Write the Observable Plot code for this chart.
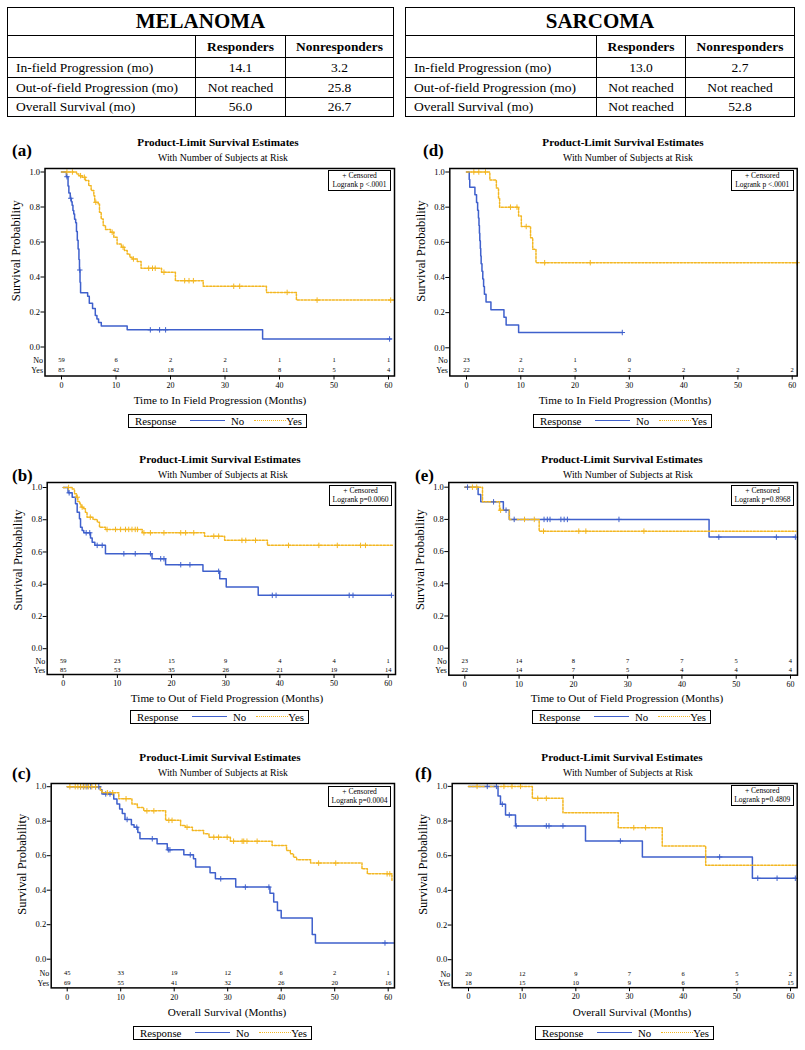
<!DOCTYPE html>
<html><head><meta charset="utf-8">
<script src="https://cdn.jsdelivr.net/npm/d3@7"></script>
<script src="https://cdn.jsdelivr.net/npm/@observablehq/plot@0.6"></script>
<style>
body{margin:0;background:#fff;font-family:"Liberation Serif","Times New Roman",serif;color:#000}
#root{position:relative;width:805px;height:1050px;overflow:hidden}
.abs{position:absolute;white-space:nowrap;line-height:1}
table.t{position:absolute;border-collapse:collapse;table-layout:fixed}
table.t td{border:1.5px solid #000;padding:0;text-align:center;font-size:13.5px;white-space:nowrap;overflow:hidden}
table.t td.l{text-align:left;padding-left:8px}
table.t td.h{font-weight:bold;font-size:13.4px}
table.t td.tt{font-weight:bold;font-size:21px}
.box{position:absolute;border:1.5px solid #000;box-sizing:border-box;background:#fff}
</style></head><body><div id="root"></div>
<script>
// ---------- table data ----------
const tableRowLabels = ["In-field Progression (mo)", "Out-of-field Progression (mo)", "Overall Survival (mo)"];
const tableHeaders = ["Responders", "Nonresponders"];
const melanomaResponders = ["14.1", "Not reached", "56.0"];
const melanomaNonresponders = ["3.2", "25.8", "26.7"];
const sarcomaResponders = ["13.0", "Not reached", "Not reached"];
const sarcomaNonresponders = ["2.7", "Not reached", "52.8"];

// ---------- common ticks ----------
const xTicks = [0, 10, 20, 30, 40, 50, 60];
const yTicks = [0, 0.2, 0.4, 0.6, 0.8, 1.0];
const riskTimes = [0, 10, 20, 30, 40, 50, 60];
const xTitles = ["Time to In Field Progression (Months)", "Time to Out of Field Progression (Months)", "Overall Survival (Months)"];
const logrankP = ["Logrank p <.0001", "Logrank p=0.0060", "Logrank p=0.0004", "Logrank p <.0001", "Logrank p=0.8968", "Logrank p=0.4809"];

// ---------- (a) melanoma in-field ----------
const aNoTime = [0, 0.9, 1.2, 1.35, 1.6, 1.8, 1.95, 2.1, 2.25, 2.4, 2.6, 2.75, 2.9, 3.05, 3.2, 3.3, 3.4, 3.5, 4.8, 5.1, 5.7, 6.2, 6.5, 6.8, 7.3, 12.05, 36.9];
const aNoSurv = [1, 0.973, 0.92, 0.88, 0.85, 0.83, 0.81, 0.78, 0.76, 0.73, 0.71, 0.66, 0.61, 0.56, 0.50, 0.44, 0.37, 0.31, 0.29, 0.25, 0.22, 0.18, 0.16, 0.14, 0.12, 0.098, 0.046];
const aNoCens = [1.0, 1.7, 3.35, 16.3, 18.0, 19.1, 60.2];
const aYesTime = [0, 2.75, 3.18, 3.79, 4.4, 5.0, 5.44, 5.93, 6.1, 6.73, 6.97, 7.28, 7.65, 8.07, 9.0, 9.6, 10.2, 11.0, 11.56, 12.05, 12.54, 12.97, 13.9, 14.6, 18.35, 20.9, 26.0, 37.6, 43.1];
const aYesSurv = [1, 0.989, 0.979, 0.97, 0.951, 0.922, 0.894, 0.865, 0.827, 0.817, 0.77, 0.732, 0.694, 0.671, 0.656, 0.627, 0.589, 0.57, 0.551, 0.532, 0.513, 0.503, 0.488, 0.45, 0.427, 0.379, 0.347, 0.312, 0.268];
const aYesCens = [1.0, 2.0, 3.5, 4.2, 6.3, 9.3, 11.3, 13.2, 16.0, 16.7, 17.2, 18.8, 22.6, 23.4, 24.2, 31.6, 32.7, 41.4, 46.9, 60.4];
const aEnd = [60.5, 61];
const aRiskNo = [59, 6, 2, 2, 1, 1, 1];
const aRiskYes = [85, 42, 18, 11, 8, 5, 4];

// ---------- (b) melanoma out-of-field ----------
const bNoTime = [0, 0.9, 1.66, 2.27, 2.58, 3.0, 3.2, 3.5, 3.8, 5.04, 5.35, 5.84, 7.8, 16.4, 18.9, 25.8, 28.9, 30.1, 36.0];
const bNoSurv = [1, 0.967, 0.94, 0.899, 0.847, 0.806, 0.754, 0.734, 0.719, 0.686, 0.661, 0.641, 0.589, 0.558, 0.521, 0.48, 0.434, 0.383, 0.331];
const bNoCens = [1.1, 4.24, 4.9, 6.27, 7.2, 11.2, 13.3, 16.1, 18.0, 18.6, 21.7, 23.4, 28.7, 38.6, 39.3, 52.8, 53.5, 60.6];
const bYesTime = [0, 1.66, 2.09, 2.45, 2.7, 3.07, 3.3, 3.7, 4.1, 4.4, 5.5, 6.3, 6.7, 7.8, 14.6, 26.1, 29.8, 37.7];
const bYesSurv = [1, 0.99, 0.961, 0.94, 0.913, 0.899, 0.878, 0.868, 0.847, 0.816, 0.802, 0.785, 0.754, 0.74, 0.719, 0.698, 0.672, 0.641];
const bYesCens = [1.0, 2.6, 3.5, 5.0, 8.1, 9.65, 10.6, 11.5, 12.1, 12.7, 13.3, 13.7, 14.9, 16.1, 18.6, 21.7, 22.6, 24.1, 27.8, 28.7, 33.0, 33.7, 35.5, 41.6, 47.2, 50.6, 54.9, 55.8];
const bEnd = [60.6, 61];
const bRiskNo = [59, 23, 15, 9, 4, 4, 1];
const bRiskYes = [85, 53, 35, 26, 21, 19, 14];

// ---------- (c) melanoma overall survival ----------
const cNoTime = [0, 6.2, 6.5, 8.7, 9.3, 9.8, 10.3, 10.8, 12.0, 12.5, 13.2, 13.6, 16.8, 18.7, 21.8, 23.6, 24.0, 26.7, 27.7, 31.5, 37.9, 38.6, 39.3, 40.0, 45.8, 46.4];
const cNoSurv = [1, 0.983, 0.958, 0.929, 0.90, 0.87, 0.845, 0.81, 0.78, 0.765, 0.735, 0.698, 0.669, 0.634, 0.605, 0.582, 0.534, 0.501, 0.466, 0.418, 0.383, 0.331, 0.283, 0.239, 0.143, 0.094];
const cNoCens = [2.5, 3.1, 3.7, 4.4, 5.3, 5.9, 7.2, 8.0, 11.2, 13.0, 15.9, 18.9, 19.2, 23.0, 28.7, 33.3, 37.7, 59.4];
const cYesTime = [0, 6.2, 6.5, 9.65, 12.1, 13.1, 14.3, 18.4, 21.2, 22.1, 23.4, 25.5, 26.5, 30.5, 38.3, 41.0, 41.7, 42.3, 42.9, 45.5, 55.1, 56.1, 60.7];
const cYesSurv = [1, 0.98, 0.965, 0.93, 0.90, 0.88, 0.86, 0.805, 0.775, 0.765, 0.746, 0.727, 0.707, 0.684, 0.659, 0.63, 0.611, 0.591, 0.576, 0.557, 0.524, 0.495, 0.457];
const cYesCens = [0.5, 1.5, 2.0, 2.5, 3.0, 3.5, 4.0, 4.6, 5.3, 7.5, 8.5, 11.0, 14.9, 16.2, 19.0, 19.6, 22.4, 27.4, 28.3, 29.9, 31.1, 32.7, 33.0, 33.6, 35.5, 47.0, 50.2, 59.8, 60.3];
const cEnd = [61, 60.9];
const cRiskNo = [45, 33, 19, 12, 6, 2, 1];
const cRiskYes = [69, 55, 41, 32, 26, 20, 16];

// ---------- (d) sarcoma in-field ----------
const dNoTime = [0, 0.5, 0.6, 1.55, 1.85, 2.05, 2.2, 2.3, 2.38, 2.45, 2.55, 2.62, 2.7, 2.85, 3.0, 3.15, 3.3, 3.6, 4.5, 6.9, 7.3, 9.6];
const dNoSurv = [1, 0.957, 0.913, 0.870, 0.826, 0.783, 0.739, 0.696, 0.652, 0.609, 0.565, 0.522, 0.478, 0.435, 0.391, 0.348, 0.304, 0.261, 0.217, 0.174, 0.130, 0.087];
const dNoCens = [28.7];
const dYesTime = [0, 4.3, 5.5, 5.9, 6.1, 9.6, 10.1, 11.8, 12.2, 12.8];
const dYesSurv = [1, 0.955, 0.909, 0.85, 0.80, 0.75, 0.69, 0.626, 0.56, 0.484];
const dYesCens = [1.35, 2.27, 3.5, 8.1, 9.3, 11.0, 14.4, 22.8, 60.9];
const dEnd = [28.7, 60.9];
const dRiskNo = [23, 2, 1, 0];
const dRiskYes = [22, 12, 3, 2, 2, 2, 2];

// ---------- (e) sarcoma out-of-field ----------
const eNoTime = [0, 2.45, 2.94, 7.1, 8.2, 45.0];
const eNoSurv = [1, 0.955, 0.909, 0.857, 0.80, 0.69];
const eNoCens = [0.5, 5.3, 7.6, 9.1, 14.6, 15.2, 15.7, 17.7, 18.3, 18.9, 28.4, 46.8, 57.4, 60.9];
const eYesTime = [0, 3.26, 6.4, 8.2, 13.7];
const eYesSurv = [1, 0.909, 0.857, 0.80, 0.727];
const eYesCens = [1.4, 2.2, 6.6, 11.0, 12.8, 14.5, 21.0, 22.3, 33.0];
const eEnd = [60.9, 61];
const eRiskNo = [23, 14, 8, 7, 7, 5, 4];
const eRiskYes = [22, 14, 7, 5, 4, 4, 4];

// ---------- (f) sarcoma overall survival ----------
const fNoTime = [0, 5.5, 5.96, 6.9, 8.76, 21.8, 32.4, 52.9];
const fNoSurv = [1, 0.944, 0.897, 0.835, 0.772, 0.685, 0.593, 0.47];
const fNoCens = [3.5, 5.2, 6.3, 7.6, 8.9, 14.5, 15.0, 17.6, 28.3, 46.8, 53.9, 57.5, 60.9];
const fYesTime = [0, 11.9, 17.6, 27.9, 36.1, 44.2];
const fYesSurv = [1, 0.931, 0.848, 0.762, 0.656, 0.545];
const fYesCens = [1.6, 6.6, 8.1, 9.7, 12.9, 14.5, 30.8, 33.0];
const fEnd = [61, 61.2];
const fRiskNo = [20, 12, 9, 7, 6, 5, 2];
const fRiskYes = [18, 15, 10, 9, 6, 5, 15];

// ---------- styling ----------
const BLUE = "#3f60cc";
const GOLD = "#f3b722";
const FONT = "'Liberation Serif','Times New Roman',serif";
const root = document.getElementById("root");

function txt(s, x, y, style, anchor) {
  const d = document.createElement("div");
  d.className = "abs";
  d.textContent = s;
  d.style.left = x + "px";
  d.style.top = y + "px";
  const tx = anchor === "left" ? "0" : anchor === "right" ? "-100%" : "-50%";
  d.style.transform = `translate(${tx},-50%)`;
  Object.assign(d.style, style || {});
  root.appendChild(d);
  return d;
}

// ---------- tables ----------
function makeTable(title, resp, nonresp, left, top, cols, rows) {
  const t = document.createElement("table");
  t.className = "t";
  t.style.left = left + "px";
  t.style.top = top + "px";
  const cg = document.createElement("colgroup");
  cols.forEach(w => { const c = document.createElement("col"); c.style.width = w + "px"; cg.appendChild(c); });
  t.appendChild(cg);
  const tr0 = t.insertRow(); tr0.style.height = rows[0] + "px";
  const c0 = tr0.insertCell(); c0.colSpan = 3; c0.className = "tt"; c0.textContent = title;
  const tr1 = t.insertRow(); tr1.style.height = rows[1] + "px";
  tr1.insertCell();
  tableHeaders.forEach(h => { const c = tr1.insertCell(); c.className = "h"; c.textContent = h; });
  tableRowLabels.forEach((lab, i) => {
    const tr = t.insertRow(); tr.style.height = rows[2 + i] + "px";
    const a = tr.insertCell(); a.className = "l"; a.textContent = lab;
    tr.insertCell().textContent = resp[i];
    tr.insertCell().textContent = nonresp[i];
  });
  root.appendChild(t);
}
makeTable("MELANOMA", melanomaResponders, melanomaNonresponders, 7, 7, [188, 90, 108], [28, 22, 20, 20, 19]);
makeTable("SARCOMA", sarcomaResponders, sarcomaNonresponders, 405, 7, [191, 89, 109], [28, 22, 20, 20, 19]);

// ---------- KM panels ----------
function stepAt(time, surv, t) {
  let s = surv[0];
  for (let i = 0; i < time.length; i++) if (time[i] <= t) s = surv[i];
  return s;
}
function curve(time, surv, end) {
  const pts = time.map((t, i) => ({t, s: surv[i]}));
  pts.push({t: end, s: surv[surv.length - 1]});
  return pts;
}
function cens(time, surv, c) { return c.map(t => ({t, s: stepAt(time, surv, t)})); }

function makePanel(p) {
  const g = p.geo;
  const pxm = (g.x60 - g.x0) / 60;
  const pxu = g.y0 - g.y1;
  const xd = [(g.frameL - g.x0) / pxm, (g.frameR - g.x0) / pxm];
  const yd = [(g.y0 - g.frameB) / pxu, (g.y0 - g.frameT) / pxu];
  const mT = 4, mB = 30;
  const height = (g.frameB - g.frameT) + mT + mB;
  const noY = (g.y0 - g.noRow) / pxu;
  const yesY = (g.y0 - g.yesRow) / pxu;
  const noPts = curve(p.noTime, p.noSurv, p.end[0]);
  const yesPts = curve(p.yesTime, p.yesSurv, p.end[1]);
  const noC = cens(p.noTime, p.noSurv, p.noCens);
  const yesC = cens(p.yesTime, p.yesSurv, p.yesCens);
  const svg = Plot.plot({
    width: p.width, height,
    marginLeft: g.frameL - p.left, marginRight: p.left + p.width - g.frameR,
    marginTop: mT, marginBottom: mB,
    style: `background:transparent;max-width:none;overflow:visible;font-family:${FONT};`,
    x: {domain: xd}, y: {domain: yd},
    marks: [
      Plot.axisX({ticks: xTicks, tickSize: 4, tickPadding: 2, fontSize: 8, label: null, tickFormat: d => String(d)}),
      Plot.axisY({ticks: yTicks, tickSize: 4, tickPadding: 1, fontSize: 8.5, label: null, tickFormat: d => d.toFixed(1)}),
      Plot.line(noPts, {x: "t", y: "s", curve: "step-after", stroke: BLUE, strokeWidth: 1.5}),
      Plot.line(yesPts, {x: "t", y: "s", curve: "step-after", stroke: GOLD, strokeWidth: 1.5, strokeDasharray: "2,1.5"}),
      Plot.dot(noC, {x: "t", y: "s", symbol: "plus", r: 1.9, stroke: BLUE, strokeWidth: 1}),
      Plot.dot(yesC, {x: "t", y: "s", symbol: "plus", r: 1.9, stroke: GOLD, strokeWidth: 1}),
      Plot.text(p.riskNo, {x: (d, i) => riskTimes[i], y: () => noY, text: d => String(d), fontSize: 6.5}),
      Plot.text(p.riskYes, {x: (d, i) => riskTimes[i], y: () => yesY, text: d => String(d), fontSize: 6.5}),
      Plot.text(["No"], {x: () => xd[0], y: () => noY, dx: -2, textAnchor: "end", fontSize: 8}),
      Plot.text(["Yes"], {x: () => xd[0], y: () => yesY, dx: -2, textAnchor: "end", fontSize: 8}),
      Plot.text(["Survival Probability"], {x: () => xd[0], y: () => 0.55, dx: -29, rotate: -90, fontSize: 12.5}),
      Plot.frame({stroke: "#000", strokeWidth: 1.5})
    ]
  });
  svg.style.position = "absolute";
  svg.style.left = p.left + "px";
  svg.style.top = (g.frameT - mT) + "px";
  root.appendChild(svg);

  // headings
  txt(p.letter, p.lab[0], p.lab[1], {fontWeight: "bold", fontSize: "17px"}, "left");
  txt("Product-Limit Survival Estimates", p.title[0], p.title[1], {fontWeight: "bold", fontSize: "11.2px"});
  txt("With Number of Subjects at Risk", p.sub[0], p.sub[1], {fontSize: "9.8px"});
  txt(p.xTitle, p.xt[0], p.xt[1], {fontSize: "11.2px"});

  // censored / logrank box
  const b = document.createElement("div");
  b.className = "box";
  Object.assign(b.style, {left: (g.frameR - 66) + "px", top: (g.frameT + 2.5) + "px", width: "63px", height: "21px"});
  root.appendChild(b);
  txt("+ Censored", g.frameR - 34.5, g.frameT + 8.5, {fontSize: "7.5px"});
  txt(p.logrank, g.frameR - 34.5, g.frameT + 17.5, {fontSize: "7.5px"});

  // legend
  const L = p.leg[0], T = p.leg[1];
  const lb = document.createElement("div");
  lb.className = "box";
  Object.assign(lb.style, {left: L + "px", top: T + "px", width: "179px", height: "14px"});
  root.appendChild(lb);
  const cy = T + 7;
  txt("Response", L + 7, cy, {fontSize: "10.8px"}, "left");
  const l1 = document.createElement("div");
  Object.assign(l1.style, {position: "absolute", left: (L + 62) + "px", top: (cy - 0.75) + "px", width: "35px", borderTop: `1.5px solid ${BLUE}`});
  root.appendChild(l1);
  txt("No", L + 103, cy, {fontSize: "10.8px"}, "left");
  const l2 = document.createElement("div");
  Object.assign(l2.style, {position: "absolute", left: (L + 126) + "px", top: (cy - 0.75) + "px", width: "32px", borderTop: `1.5px dotted ${GOLD}`});
  root.appendChild(l2);
  txt("Yes", L + 174, cy, {fontSize: "10.8px"}, "right");
}

const panels = [
  {letter: "(a)", left: 0, width: 400,
   geo: {frameL: 44.5, frameR: 394, frameT: 167.5, frameB: 375, x0: 61, x60: 388, y1: 171, y0: 346, noRow: 359, yesRow: 369},
   noTime: aNoTime, noSurv: aNoSurv, noCens: aNoCens, yesTime: aYesTime, yesSurv: aYesSurv, yesCens: aYesCens, end: aEnd,
   riskNo: aRiskNo, riskYes: aRiskYes, logrank: logrankP[0], xTitle: xTitles[0],
   lab: [12, 150], title: [218, 143], sub: [223, 158], xt: [220, 401], leg: [128, 414]},
  {letter: "(b)", left: 0, width: 400,
   geo: {frameL: 46.7, frameR: 395, frameT: 482.3, frameB: 674.3, x0: 62.7, x60: 387.7, y1: 487.3, y0: 648.5, noRow: 661, yesRow: 670},
   noTime: bNoTime, noSurv: bNoSurv, noCens: bNoCens, yesTime: bYesTime, yesSurv: bYesSurv, yesCens: bYesCens, end: bEnd,
   riskNo: bRiskNo, riskYes: bRiskYes, logrank: logrankP[1], xTitle: xTitles[1],
   lab: [12, 475], title: [220, 460], sub: [223, 475], xt: [227, 699], leg: [130, 710]},
  {letter: "(c)", left: 0, width: 400,
   geo: {frameL: 50.7, frameR: 394, frameT: 783.3, frameB: 987.7, x0: 66.7, x60: 387.7, y1: 786.5, y0: 959, noRow: 973, yesRow: 983},
   noTime: cNoTime, noSurv: cNoSurv, noCens: cNoCens, yesTime: cYesTime, yesSurv: cYesSurv, yesCens: cYesCens, end: cEnd,
   riskNo: cRiskNo, riskYes: cRiskYes, logrank: logrankP[2], xTitle: xTitles[2],
   lab: [12, 773], title: [220, 758], sub: [223, 773], xt: [227, 1013], leg: [133, 1026]},
  {letter: "(d)", left: 400, width: 405,
   geo: {frameL: 449.3, frameR: 796.7, frameT: 167.5, frameB: 375, x0: 466, x60: 791.7, y1: 171, y0: 346.8, noRow: 359, yesRow: 369},
   noTime: dNoTime, noSurv: dNoSurv, noCens: dNoCens, yesTime: dYesTime, yesSurv: dYesSurv, yesCens: dYesCens, end: dEnd,
   riskNo: dRiskNo, riskYes: dRiskYes, logrank: logrankP[3], xTitle: xTitles[0],
   lab: [423, 150], title: [623, 143], sub: [628, 158], xt: [625, 401], leg: [533, 414]},
  {letter: "(e)", left: 400, width: 405,
   geo: {frameL: 448.3, frameR: 797, frameT: 482.3, frameB: 675, x0: 464.3, x60: 790, y1: 487, y0: 648, noRow: 661, yesRow: 670},
   noTime: eNoTime, noSurv: eNoSurv, noCens: eNoCens, yesTime: eYesTime, yesSurv: eYesSurv, yesCens: eYesCens, end: eEnd,
   riskNo: eRiskNo, riskYes: eRiskYes, logrank: logrankP[4], xTitle: xTitles[1],
   lab: [415, 475], title: [622, 460], sub: [628, 475], xt: [627, 699], leg: [532, 710]},
  {letter: "(f)", left: 400, width: 405,
   geo: {frameL: 451.7, frameR: 796.7, frameT: 782.5, frameB: 986.7, x0: 468, x60: 790, y1: 785.4, y0: 958.7, noRow: 973, yesRow: 982},
   noTime: fNoTime, noSurv: fNoSurv, noCens: fNoCens, yesTime: fYesTime, yesSurv: fYesSurv, yesCens: fYesCens, end: fEnd,
   riskNo: fRiskNo, riskYes: fRiskYes, logrank: logrankP[5], xTitle: xTitles[2],
   lab: [415, 773], title: [622, 758], sub: [628, 773], xt: [632, 1013], leg: [535, 1026]}
];
panels.forEach(makePanel);
</script></body></html>
